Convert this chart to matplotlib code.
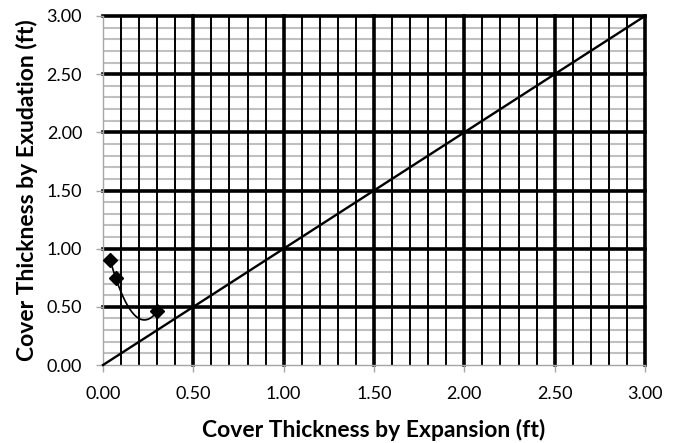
import numpy as np
import matplotlib
matplotlib.use("Agg")
import matplotlib.pyplot as plt
from matplotlib.ticker import MultipleLocator, FormatStrFormatter

# Data
expansion = [0.04, 0.07, 0.30]      # Cover thickness by expansion (ft)
exudation = [0.90, 0.75, 0.46]      # Cover thickness by exudation (ft)
equality_x = [0.0, 3.0]
equality_y = [0.0, 3.0]
x_label = "Cover Thickness by Expansion (ft)"
y_label = "Cover Thickness by Exudation (ft)"

plt.rcParams['font.family'] = ['Lato', 'DejaVu Sans']

fig = plt.figure(figsize=(6.77, 4.43), dpi=100)
ax = fig.add_axes([103/677, 1-365/443, (645-103)/677, (365-16)/443])

ax.set_xlim(0, 3)
ax.set_ylim(0, 3)

ax.xaxis.set_major_locator(MultipleLocator(0.5))
ax.yaxis.set_major_locator(MultipleLocator(0.5))
ax.xaxis.set_minor_locator(MultipleLocator(0.1))
ax.yaxis.set_minor_locator(MultipleLocator(0.1))

# grid lines drawn in explicit layer order
for v in ax.yaxis.get_minorticklocs():
    ax.axhline(v, color='#c0c0c0', lw=1.5, zorder=0.5)
for v in ax.xaxis.get_minorticklocs():
    ax.axvline(v, color='black', lw=1.4, zorder=0.7)
for v in ax.yaxis.get_majorticklocs():
    if v > 0:
        ax.axhline(v, color='black', lw=2.6, zorder=0.9, clip_on=False)
for v in ax.xaxis.get_majorticklocs():
    if v > 0:
        ax.axvline(v, color='black', lw=2.6, zorder=0.9, clip_on=False)

ax.xaxis.set_major_formatter(FormatStrFormatter('%.2f'))
ax.yaxis.set_major_formatter(FormatStrFormatter('%.2f'))
ax.tick_params(which='major', direction='out', length=5, width=1, color='#a6a6a6',
               labelsize=13, pad=10)
ax.tick_params(which='minor', length=0)
for s in ['left', 'bottom']:
    ax.spines[s].set_color('#a6a6a6')
    ax.spines[s].set_linewidth(1)
for s in ['top', 'right']:
    ax.spines[s].set_visible(False)

# equality line
ax.plot(equality_x, equality_y, color='black', lw=1.7, zorder=4, clip_on=False)

# smoothed curve through the points
coef = np.polyfit(expansion, exudation, 2)
xs = np.linspace(min(expansion), max(expansion), 200)
ax.plot(xs, np.polyval(coef, xs), color='black', lw=1.2, zorder=5)
ax.plot(expansion, exudation, linestyle='none', marker='D', color='black',
        markersize=7, zorder=6)

ax.set_xlabel(x_label, fontsize=16.5, fontweight='bold', labelpad=12)
ax.set_ylabel(y_label, fontsize=16.5, fontweight='bold', labelpad=6)

fig.savefig("out.png", dpi=100)
